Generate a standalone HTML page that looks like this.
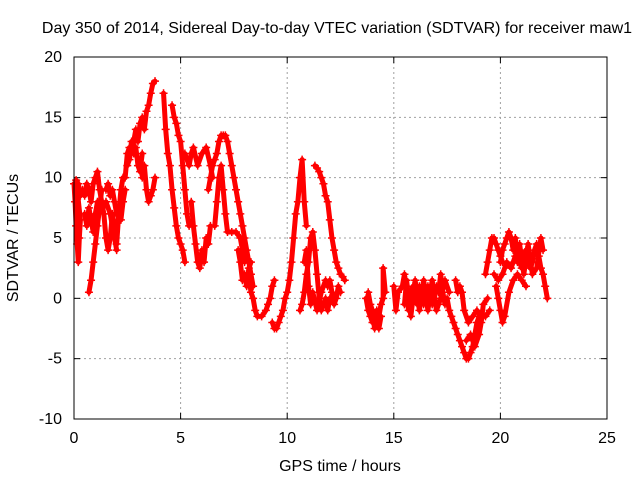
<!DOCTYPE html>
<html><head><meta charset="utf-8"><style>
body{margin:0;background:#fff}
svg{display:block;font-family:"Liberation Sans",sans-serif}
</style></head><body>
<svg id="chart" width="640" height="480">
<text x="337" y="33" font-size="16" text-anchor="middle">Day 350 of 2014, Sidereal Day-to-day VTEC variation (SDTVAR) for receiver maw1</text>
<text x="340" y="471" font-size="16" text-anchor="middle">GPS time / hours</text>
<text transform="translate(18,238) rotate(-90)" font-size="16" text-anchor="middle">SDTVAR / TECUs</text>
<g id="grid"></g><g id="ticks"></g><g id="marks"></g>
<rect x="74" y="57" width="533" height="362" fill="none" stroke="#000" stroke-width="1"/>
</svg>
<script>
const xTicks=[0,5,10,15,20,25];
const yTicks=[-10,-5,0,5,10,15,20];
// tracks: arrays of [hour, TECU]
const trackA=[[0,9.5],[0.05,8],[0.1,6],[0.15,4.5],[0.2,3],[0.25,5],[0.3,6.5],[0.1,9.8],[0.2,9.5],[0.3,8.5]];
const trackB=[[0.7,0.5],[0.8,1.5],[0.9,3],[1.0,4.5],[1.1,6],[1.2,7.5],[1.3,9]];
const trackC=[[0.4,9],[0.5,8.5],[0.6,9.5],[0.7,9],[0.8,8],[0.9,9.5],[1.0,10],[1.1,10.5],[1.2,9],[1.3,8],[1.4,7],[1.5,5],[1.6,4],[1.7,5],[1.8,7],[1.9,6],[2.0,4.5],[2.1,7],[2.2,9],[2.3,10]];
const trackD=[[1.5,9],[1.6,9.5],[1.7,8.5],[1.8,9],[1.9,8],[2.0,7],[2.2,6.5],[2.3,8],[2.4,9]];
const trackD2=[[0.5,7],[0.6,6],[0.7,7.5],[0.8,6.5],[0.9,5.5],[1.0,7],[1.1,8],[1.3,7.5],[1.5,8],[1.7,7],[1.9,5],[2.0,4]];
const trackE=[[2.4,10],[2.5,12],[2.6,12.5],[2.7,12],[2.8,13],[2.9,14],[3.0,13],[3.1,14.5],[3.2,15],[3.3,14],[3.4,15.5],[3.5,16],[3.6,17],[3.7,17.8],[3.8,18]];
const trackE2=[[2.5,11],[2.6,11.5],[2.7,13],[2.8,12],[2.9,12.5],[3.0,11],[3.1,10.5],[3.2,12]];
const trackF=[[3.2,10],[3.3,11],[3.4,9],[3.5,8],[3.6,8.5],[3.7,9],[3.8,10]];
const trackG=[[4.2,17],[4.3,14],[4.4,12],[4.5,11],[4.6,9],[4.7,7.5],[4.8,6],[4.9,5],[5.0,4.5],[5.1,4],[5.2,3]];
const trackG2=[[4.6,16],[4.7,15],[4.8,14.5],[4.9,13.5],[5.0,13],[5.1,11],[5.2,9],[5.3,7],[5.4,6]];
const trackH=[[5.2,12],[5.4,11],[5.5,12],[5.6,12.5],[5.8,11],[6.0,12],[6.2,12.5],[6.4,11],[6.5,10]];
const trackI=[[5.5,8],[5.6,6],[5.7,4.5],[5.8,3],[5.9,2.5],[6.0,4],[6.1,3],[6.2,5],[6.3,4.5],[6.4,6]];
const trackJ=[[6.3,9],[6.4,10],[6.5,11],[6.6,11.5],[6.7,12],[6.8,13],[6.9,13.5],[7.0,13.5],[7.1,13.5],[7.2,13],[7.3,12],[7.4,11],[7.5,10],[7.6,9],[7.7,8],[7.8,7],[7.9,6],[8.0,5],[8.1,4],[8.2,3],[8.3,2],[8.4,1]];
const trackK=[[6.6,6],[6.7,8],[6.8,10],[6.9,11],[7.0,9],[7.1,7],[7.2,5.5],[7.4,5.5],[7.6,5.5],[7.8,5],[7.9,4],[8.0,3]];
const trackK2=[[7.7,4],[7.8,3],[7.9,1.5],[8.0,2],[8.1,1],[8.2,2.5],[8.3,3]];
const trackL=[[8.2,2],[8.3,0.5],[8.4,0],[8.5,-1],[8.6,-1.5],[8.8,-1.5],[9.0,-1],[9.1,-0.5],[9.2,0],[9.3,1],[9.4,1.5]];
const trackM=[[9.3,-2],[9.4,-2.5],[9.5,-2.5],[9.6,-2],[9.7,-1.5],[9.8,-1],[9.9,0],[10.0,0.5],[10.1,1.5],[10.2,3],[10.3,5],[10.4,7],[10.5,8],[10.6,10],[10.7,11.5],[10.8,8],[10.9,6]];
const trackN=[[10.6,-1],[10.7,-0.5],[10.8,0.5],[10.9,2],[11.0,3],[11.1,5],[11.2,5.5],[11.3,4],[11.4,2],[11.5,0],[11.6,-1],[11.7,-0.5],[11.8,0],[11.9,-1],[12.0,0]];
const trackN2=[[10.8,3],[10.9,4],[11.0,1],[11.1,-0.5],[11.2,0.5],[11.4,-1],[11.6,0.5],[11.8,1.5],[12.0,1]];
const trackO=[[11.3,11],[11.4,10.8],[11.5,10.5],[11.6,10],[11.7,9.5],[11.8,8.5],[11.9,8],[12.0,6.5],[12.1,5],[12.2,4],[12.3,3],[12.4,2.5],[12.5,2],[12.6,1.8],[12.7,1.5]];
const trackO2=[[11.9,1],[12.0,1.5],[12.1,0.5],[12.2,-0.5],[12.3,0],[12.4,1],[12.5,0.5]];
const trackP=[[13.7,0],[13.8,-1],[13.9,-1.5],[14.0,-2],[14.1,-1.5],[14.2,-2],[14.3,-1.5],[14.4,-0.5],[14.5,0],[14.5,2.5],[14.6,0.5]];
const trackP2=[[13.8,0.5],[13.9,-0.5],[14.0,-1],[14.1,-2.5],[14.2,-1],[14.3,-2.5],[14.4,-1.5]];
const trackQ=[[15.0,1],[15.1,-1],[15.2,0.5],[15.4,1],[15.5,2],[15.6,0],[15.7,-1],[15.8,0.5],[15.9,1],[16.0,0],[16.1,-0.5],[16.2,1],[16.3,0.5],[16.4,-0.5],[16.5,0],[16.6,1],[16.7,0.5],[16.8,-0.5],[16.9,0],[17.0,1],[17.1,0.5],[17.2,2],[17.3,0.5],[17.4,-0.5]];
const trackQ2=[[15.5,-0.5],[15.6,1.5],[15.8,-1.5],[16.0,1.5],[16.2,-1],[16.4,1.5],[16.6,-1],[16.8,1.5],[17.0,-1],[17.2,0],[17.4,1.5],[17.6,0.5]];
const trackR=[[17.5,0],[17.6,-1],[17.7,-1.5],[17.8,-2],[17.9,-2.5],[18.0,-3],[18.1,-3.5],[18.2,-4],[18.3,-4.5],[18.4,-5],[18.5,-5],[18.6,-4.5],[18.7,-4],[18.8,-3],[18.9,-2],[19.0,-1.5]];
const trackS=[[17.9,1.5],[18.0,0.5],[18.1,1],[18.2,0.5],[18.3,-1],[18.5,-2],[18.7,-1.5],[18.9,-1],[19.1,-1.5],[19.3,-1.5],[19.5,-1]];
const trackS2=[[18.4,-3.5],[18.6,-3],[18.8,-4],[19.0,-3],[19.1,-2],[19.2,-0.5],[19.4,0]];
const trackT=[[19.3,2],[19.4,3],[19.5,4],[19.6,5],[19.7,5],[19.8,4.5],[19.9,4],[20.0,3.5],[20.1,3]];
const trackU=[[20.0,3],[20.1,4],[20.2,4.5],[20.3,5],[20.4,5.5],[20.5,5],[20.6,4],[20.7,5],[20.8,3],[20.9,3],[21.0,2.5],[21.1,3.5],[21.2,4],[21.3,3],[21.4,2.5],[21.5,3],[21.6,4],[21.7,4.5],[21.8,3.5],[21.9,2.5],[22.0,2],[22.1,1],[22.2,0]];
const trackU2=[[19.7,2],[19.9,1.5],[20.1,2],[20.3,3],[20.5,2.5],[20.7,3.5],[20.9,4.5],[21.1,2],[21.3,4.5],[21.5,2],[21.7,2.5],[21.9,5],[22.0,4]];
const trackV=[[19.8,1],[19.9,0],[20.0,-1],[20.1,-2],[20.2,-1.5],[20.4,0.5],[20.6,1.5],[20.8,2],[21.0,1.5],[21.2,1]];
const tracks=[trackA,trackB,trackC,trackD,trackD2,trackE,trackE2,trackF,trackG,trackG2,trackH,trackI,trackJ,trackK,trackK2,trackL,trackM,trackN,trackN2,trackO,trackO2,trackP,trackP2,trackQ,trackQ2,trackR,trackS,trackS2,trackT,trackU,trackU2,trackV];

const X0=74,X1=607,Y0=419,Y1=57;
const xs=v=>X0+(v-0)/25*(X1-X0);
const ys=v=>Y0-(v+10)/30*(Y0-Y1);
const NS="http://www.w3.org/2000/svg";
const grid=document.getElementById('grid'),tk=document.getElementById('ticks'),mk=document.getElementById('marks');
function mkEl(t,p,a){const e=document.createElementNS(NS,t);for(const k in a)e.setAttribute(k,a[k]);p.appendChild(e);return e;}
xTicks.forEach(v=>{
  if(v>0&&v<25){const g=mkEl('line',grid,{x1:xs(v),x2:xs(v),y1:Y0,y2:Y1,stroke:'#a0a0a0','stroke-dasharray':'2,3'});
  
  }
  const t=mkEl('text',tk,{x:xs(v),y:Y0+24,'font-size':16,'text-anchor':'middle'});t.textContent=v;
  
  
  mkEl('line',tk,{x1:xs(v),x2:xs(v),y1:Y0,y2:Y0-6,stroke:'#000'});
  mkEl('line',tk,{x1:xs(v),x2:xs(v),y1:Y1,y2:Y1+6,stroke:'#000'});
});
yTicks.forEach(v=>{
  if(v>-10&&v<20){const g=mkEl('line',grid,{x1:X0,x2:X1,y1:ys(v),y2:ys(v),stroke:'#a0a0a0','stroke-dasharray':'2,3'});
  
  }
  const t=mkEl('text',tk,{x:X0-12,y:ys(v)+5,'font-size':16,'text-anchor':'end'});t.textContent=v;
  
  
  mkEl('line',tk,{x1:X0,x2:X0+6,y1:ys(v),y2:ys(v),stroke:'#000'});
  mkEl('line',tk,{x1:X1,x2:X1-6,y1:ys(v),y2:ys(v),stroke:'#000'});
});
tracks.forEach(tr=>{
  const pl=mkEl('polyline',mk,{points:tr.map(p=>xs(p[0])+','+ys(p[1])).join(' '),fill:'none',stroke:'#ff0000','stroke-width':5,'stroke-linejoin':'round','stroke-linecap':'round'});
  
  
  tr.forEach(p=>{
    const x=xs(p[0]),y=ys(p[1]);
    const m=mkEl('path',mk,{d:`M${x-4},${y}H${x+4}M${x},${y-4}V${y+4}`,stroke:'#ff0000','stroke-width':1.5});
    
    
  });
});
</script>
</body></html>
